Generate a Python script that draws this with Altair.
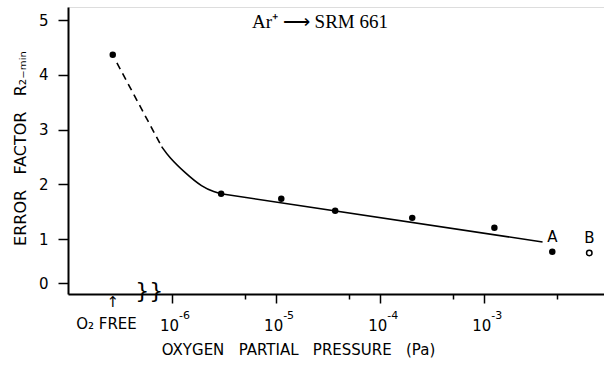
import altair as alt
import pandas as pd
import numpy as np

# ---- data ----
pressure_pa = [2.96e-6, 1.12e-5, 3.69e-5, 2.03e-4, 1.25e-3, 4.5e-3]
error_factor = [1.83, 1.74, 1.52, 1.39, 1.21, 0.77]
point_label = ["", "", "", "", "", "A"]
o2_free_value = 4.37
b_pressure = 1.02e-2
b_value = 0.75

# curve through the points (log10 of pressure, error factor)
dash_logp = [-6.53, -6.10]
dash_err = [4.22, 2.69]
curve_logp = [-6.10, -6.03, -5.875, -5.71, -5.59, -5.53]
curve_err = [2.69, 2.50, 2.21, 1.95, 1.86, 1.83]
fit_logp = [-5.53, -2.44]
fit_err = [1.83, 0.95]

major_ticks = [-6, -5, -4, -3]
exponent_text = ["-6", "-5", "-4", "-3"]
minor_ticks = [float(np.log10(5 * 10.0 ** k)) for k in (-6, -5, -4, -3)]
y_ticks = [0.2, 1, 2, 3, 4, 5]
O2_FREE_POS = -6.57

FONT = "DejaVu Sans"
SP = "\u00a0"
xs = alt.Scale(domain=[-7, -1.85], nice=False, zero=False)
ys = alt.Scale(domain=[0, 5.24], nice=False, zero=False)

pts = pd.DataFrame({"x": [O2_FREE_POS] + list(np.log10(pressure_pa)),
                    "y": [o2_free_value] + error_factor,
                    "lab": [""] + point_label})
bdf = pd.DataFrame({"x": [np.log10(b_pressure)], "y": [b_value], "lab": ["B"]})
dash_df = pd.DataFrame({"x": dash_logp, "y": dash_err})
curve_df = pd.DataFrame({"x": curve_logp, "y": curve_err})
fit_df = pd.DataFrame({"x": fit_logp, "y": fit_err})
exp_df = pd.DataFrame({"x": major_ticks, "t": exponent_text})

X0 = lambda: alt.X("x:Q", scale=xs, axis=None)
Y0 = lambda: alt.Y("y:Q", scale=ys, axis=None)

main_axis_layer = alt.Chart(dash_df).mark_line(
    color="black", strokeWidth=1.6, strokeDash=[7, 5]
).encode(
    x=alt.X("x:Q", scale=xs, axis=alt.Axis(
        orient="bottom", values=major_ticks, grid=False,
        labelExpr="'10'", labelBaseline="middle", labelOffset=-3,
        labelFont=FONT, labelFontSize=15, labelColor="black", labelPadding=22,
        tickSize=9, tickColor="black", tickWidth=1.5,
        domainColor="black", domainWidth=2,
        title=f"OXYGEN{SP*3}PARTIAL{SP*3}PRESSURE{SP*3}(Pa)", titleFont=FONT, titleFontSize=15,
        titleFontWeight="normal", titleColor="black", titleX=230, titleY=55,
        titleBaseline="middle", titleAlign="center")),
    y=alt.Y("y:Q", scale=ys, axis=alt.Axis(
        orient="left", values=y_ticks, grid=False,
        labelExpr="datum.value < 0.5 ? '0' : datum.label",
        labelFont=FONT, labelFontSize=15, labelColor="black", labelPadding=10,
        tickSize=10, tickColor="black", tickWidth=1.5,
        domainColor="black", domainWidth=2,
        title=f"ERROR{SP*3}FACTOR{SP*3}R₂₋ₘᵢₙ", titleFont=FONT, titleFontSize=16,
        titleFontWeight="normal", titleColor="black", titleX=-48, titleY=141,
        titleBaseline="middle", titleAlign="center", titleAngle=270)),
)

minor_layer = alt.Chart(pd.DataFrame({"x": minor_ticks})).mark_point(opacity=0).encode(
    x=alt.X("x:Q", scale=xs, axis=alt.Axis(
        orient="bottom", values=minor_ticks, labels=False, domain=False, grid=False,
        tickSize=5, tickColor="black", tickWidth=1.5, title=None)),
    y=alt.value(0),
)

exps = alt.Chart(exp_df).mark_text(font=FONT, fontSize=11, color="black", baseline="middle",
                                   align="left", dx=7).encode(x=X0(), y=alt.value(309), text="t:N")

curve = alt.Chart(curve_df).mark_line(color="black", strokeWidth=1.6, interpolate="basis").encode(x=X0(), y=Y0())
fit = alt.Chart(fit_df).mark_line(color="black", strokeWidth=1.6).encode(x=X0(), y=Y0())
filled = alt.Chart(pts).mark_point(filled=True, color="black", size=42, opacity=1).encode(x=X0(), y=Y0())
opened = alt.Chart(bdf).mark_point(filled=False, color="black", size=30, strokeWidth=1.5, opacity=1).encode(x=X0(), y=Y0())
letters = alt.Chart(pd.concat([pts, bdf])).mark_text(font=FONT, fontSize=15, color="black", dy=-15).encode(
    x=X0(), y=Y0(), text="lab:N")

arrow = alt.Chart(pd.DataFrame({"x": [O2_FREE_POS], "t": ["↑"]})).mark_text(
    font=FONT, fontSize=15, color="black", baseline="middle").encode(x=X0(), y=alt.value(295), text="t:N")
o2lab = alt.Chart(pd.DataFrame({"x": [O2_FREE_POS - 0.06], "t": ["O₂ FREE"]})).mark_text(
    font=FONT, fontSize=15, color="black", baseline="middle").encode(x=X0(), y=alt.value(317), text="t:N")
brk = alt.Chart(pd.DataFrame({"x": [-6.22], "t": ["}}"]})).mark_text(
    font=FONT, fontSize=22, color="black", baseline="middle").encode(x=X0(), y=alt.value(284), text="t:N")
title = alt.Chart(pd.DataFrame({"t": ["Ar⁺ ⟶ SRM 661"]})).mark_text(
    font="Liberation Serif", fontSize=19, color="black", baseline="middle").encode(
    x=alt.value(252), y=alt.value(15), text="t:N")

chart = alt.layer(
    main_axis_layer, minor_layer, exps, curve, fit, filled, opened, letters, arrow, o2lab, brk, title
).resolve_axis(x="independent", y="independent").properties(
    width=536, height=287,
    padding={"left": 68, "top": 7, "right": 0, "bottom": 71},
    autosize=alt.AutoSizeParams(type="none"),
).configure_view(stroke=None).configure(background="white")

chart.save("out.html", embed_options={"renderer": "svg", "actions": False})
